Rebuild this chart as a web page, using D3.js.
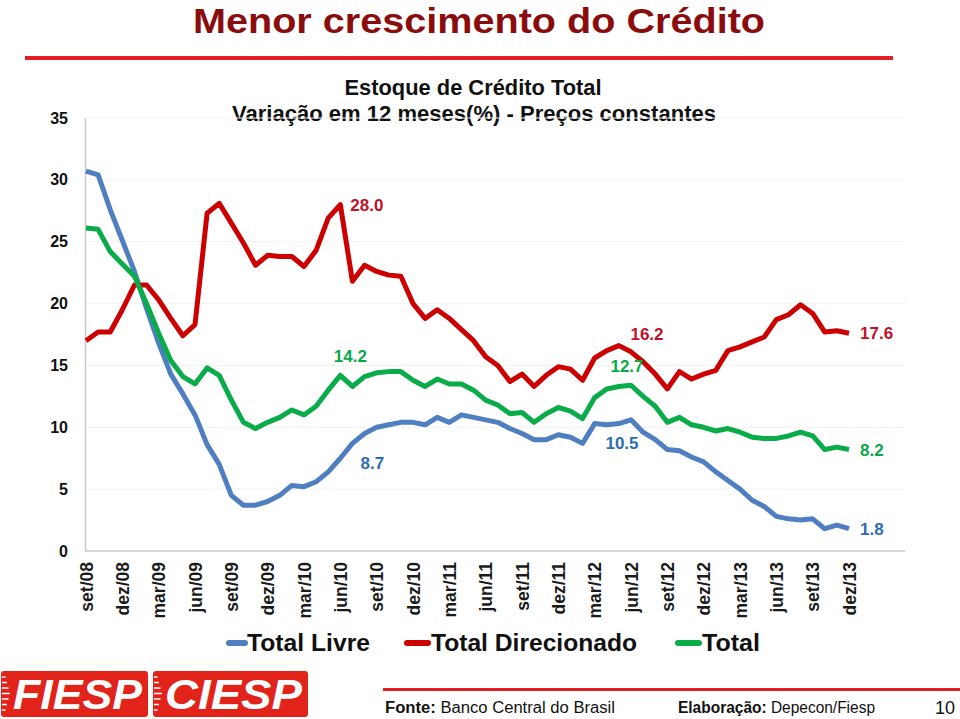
<!DOCTYPE html>
<html>
<head>
<meta charset="utf-8">
<script src="https://cdn.jsdelivr.net/npm/d3@7"></script>
<style>
  body { margin: 0; background: #fff; }
  svg { display: block; font-family: "Liberation Sans", Arial, sans-serif; }
</style>
</head>
<body>
<div id="chart"></div>
<script>
// meses de set/08 a dez/13
var meses = [
  "set/08", "out/08", "nov/08", "dez/08",
  "jan/09", "fev/09", "mar/09", "abr/09", "mai/09", "jun/09", "jul/09", "ago/09", "set/09", "out/09", "nov/09", "dez/09",
  "jan/10", "fev/10", "mar/10", "abr/10", "mai/10", "jun/10", "jul/10", "ago/10", "set/10", "out/10", "nov/10", "dez/10",
  "jan/11", "fev/11", "mar/11", "abr/11", "mai/11", "jun/11", "jul/11", "ago/11", "set/11", "out/11", "nov/11", "dez/11",
  "jan/12", "fev/12", "mar/12", "abr/12", "mai/12", "jun/12", "jul/12", "ago/12", "set/12", "out/12", "nov/12", "dez/12",
  "jan/13", "fev/13", "mar/13", "abr/13", "mai/13", "jun/13", "jul/13", "ago/13", "set/13", "out/13", "nov/13", "dez/13"
];

var totalLivre = [
  30.7, 30.4, 27.6, 25.1, 22.6, 19.6, 16.8, 14.3, 12.7, 11.0,
  8.6, 7.0, 4.5, 3.7, 3.7, 4.0, 4.5, 5.3, 5.2, 5.6,
  6.4, 7.5, 8.7, 9.5, 10.0, 10.2, 10.4, 10.4, 10.2, 10.8,
  10.4, 11.0, 10.8, 10.6, 10.4, 9.9, 9.5, 9.0, 9.0, 9.4,
  9.2, 8.7, 10.3, 10.2, 10.3, 10.6, 9.6, 9.0, 8.2, 8.1,
  7.6, 7.2, 6.4, 5.7, 5.0, 4.1, 3.6, 2.8, 2.6, 2.5,
  2.6, 1.8, 2.1, 1.8
];

var totalDirecionado = [
  17.0, 17.7, 17.7, 19.5, 21.5, 21.5, 20.3, 18.8, 17.4, 18.3,
  27.3, 28.1, 26.5, 24.9, 23.1, 23.9, 23.8, 23.8, 23.0, 24.3,
  26.9, 28.0, 21.8, 23.1, 22.6, 22.3, 22.2, 20.0, 18.8, 19.5,
  18.8, 17.9, 17.0, 15.7, 15.0, 13.7, 14.3, 13.3, 14.2, 14.9,
  14.7, 13.8, 15.6, 16.2, 16.6, 16.1, 15.3, 14.3, 13.1, 14.5,
  13.9, 14.3, 14.6, 16.2, 16.5, 16.9, 17.3, 18.7, 19.1, 19.9,
  19.2, 17.7, 17.8, 17.6
];

var total = [
  26.1, 26.0, 24.2, 23.2, 22.2, 20.0, 17.6, 15.4, 14.1, 13.5,
  14.8, 14.2, 12.2, 10.4, 9.9, 10.4, 10.8, 11.4, 11.0, 11.7,
  13.0, 14.2, 13.3, 14.1, 14.4, 14.5, 14.5, 13.8, 13.3, 13.9,
  13.5, 13.5, 13.0, 12.2, 11.8, 11.1, 11.2, 10.4, 11.1, 11.6,
  11.3, 10.7, 12.4, 13.1, 13.3, 13.4, 12.5, 11.7, 10.4, 10.8,
  10.2, 10.0, 9.7, 9.9, 9.6, 9.2, 9.1, 9.1, 9.3, 9.6,
  9.3, 8.2, 8.4, 8.2
];

var rotulosX = ["set/08", "dez/08", "mar/09", "jun/09", "set/09", "dez/09", "mar/10", "jun/10", "set/10",
  "dez/10", "mar/11", "jun/11", "set/11", "dez/11", "mar/12", "jun/12", "set/12", "dez/12", "mar/13",
  "jun/13", "set/13", "dez/13"];
var ticksY = [0, 5, 10, 15, 20, 25, 30, 35];

// rótulos de destaque: série, mês, texto
var destaques = [
  { serie: "dir", mes: "jun/10", texto: "28.0", dx: 10, dy: 0, anchor: "start" },
  { serie: "tot", mes: "jun/10", texto: "14.2", dx: 10, dy: -19, anchor: "middle" },
  { serie: "liv", mes: "jul/10", texto: "8.7", dx: 20, dy: 20, anchor: "middle" },
  { serie: "dir", mes: "jun/12", texto: "16.2", dx: 16, dy: -18, anchor: "middle" },
  { serie: "tot", mes: "jun/12", texto: "12.7", dx: -4, dy: -19, anchor: "middle" },
  { serie: "liv", mes: "jun/12", texto: "10.5", dx: -9, dy: 23, anchor: "middle" },
  { serie: "dir", mes: "dez/13", texto: "17.6", dx: 11, dy: 0, anchor: "start" },
  { serie: "tot", mes: "dez/13", texto: "8.2", dx: 11, dy: 0, anchor: "start" },
  { serie: "liv", mes: "dez/13", texto: "1.8", dx: 11, dy: 0, anchor: "start" }
];

var series = [
  { key: "liv", nome: "Total Livre", valores: totalLivre, cor: "#4f7fc0", corRotulo: "#2e6db4" },
  { key: "dir", nome: "Total Direcionado", valores: totalDirecionado, cor: "#cc0000", corRotulo: "#c0102a" },
  { key: "tot", nome: "Total", valores: total, cor: "#0aac4a", corRotulo: "#0aa84a" }
];

var width = 960, height = 719;
var svg = d3.select("#chart").append("svg").attr("width", width).attr("height", height);

// titulo do slide
svg.append("text")
    .attr("x", 479).attr("y", 33)
    .attr("text-anchor", "middle")
    .attr("font-size", 35).attr("font-weight", "bold")
    .attr("fill", "#8a0c0c")
    .attr("textLength", 572).attr("lengthAdjust", "spacingAndGlyphs")
    .text("Menor crescimento do Crédito");

svg.append("rect").attr("x", 25).attr("y", 56).attr("width", 868).attr("height", 4).attr("fill", "#e31e24");

// titulo do grafico
svg.append("text")
    .attr("x", 473).attr("y", 95)
    .attr("text-anchor", "middle")
    .attr("font-size", 22).attr("font-weight", "bold").attr("fill", "#111")
    .attr("textLength", 257).attr("lengthAdjust", "spacingAndGlyphs")
    .text("Estoque de Crédito Total");
svg.append("text")
    .attr("x", 474).attr("y", 121)
    .attr("text-anchor", "middle")
    .attr("font-size", 22).attr("font-weight", "bold").attr("fill", "#111")
    .attr("textLength", 484).attr("lengthAdjust", "spacingAndGlyphs")
    .text("Variação em 12 meses(%) - Preços constantes");

var x = d3.scalePoint().domain(meses).range([86, 849]);
var y = d3.scaleLinear().domain([0, 35]).range([551, 118]);

// grade bem clara
svg.append("g").selectAll("line").data(ticksY.filter(function (d) { return d > 0; }))
    .enter().append("line")
    .attr("x1", 86).attr("x2", 905)
    .attr("y1", function (d) { return y(d); }).attr("y2", function (d) { return y(d); })
    .attr("stroke", "#f3f3f3").attr("stroke-width", 1);

// eixo y
var eixoY = svg.append("g").attr("transform", "translate(85,0)")
    .call(d3.axisLeft(y).tickValues(ticksY).tickSize(0).tickPadding(17).tickFormat(d3.format("d")));
eixoY.select(".domain").attr("stroke", "#c8c8c8").attr("stroke-width", 1.5);
eixoY.selectAll("text").attr("font-size", 16).attr("font-weight", "bold").attr("fill", "#111")
    .attr("font-family", "Liberation Sans, Arial, sans-serif");

// eixo x
var eixoX = svg.append("g").attr("transform", "translate(0,551)")
    .call(d3.axisBottom(x).tickValues(rotulosX).tickSize(0).tickPadding(0));
eixoX.select(".domain").remove();
svg.append("line").attr("x1", 85).attr("x2", 905).attr("y1", 551).attr("y2", 551)
    .attr("stroke", "#c8c8c8").attr("stroke-width", 1.5);
eixoX.selectAll("text")
    .attr("transform", "rotate(-90)")
    .attr("x", -11).attr("y", 0).attr("dy", "0.35em")
    .attr("text-anchor", "end")
    .attr("font-size", 17.5).attr("font-weight", "bold").attr("fill", "#1a1a1a")
    .attr("font-family", "Liberation Sans, Arial, sans-serif");

// linhas
var linha = d3.line()
    .x(function (d, i) { return x(meses[i]); })
    .y(function (d) { return y(d); });

svg.append("g").selectAll("path").data(series).enter().append("path")
    .attr("d", function (s) { return linha(s.valores); })
    .attr("fill", "none")
    .attr("stroke", function (s) { return s.cor; })
    .attr("stroke-width", 5)
    .attr("stroke-linejoin", "round");

// rotulos de valor
var porChave = {};
series.forEach(function (s) { porChave[s.key] = s; });
svg.append("g").selectAll("text").data(destaques).enter().append("text")
    .attr("x", function (d) { return x(d.mes) + d.dx; })
    .attr("y", function (d) {
        var s = porChave[d.serie];
        return y(s.valores[meses.indexOf(d.mes)]) + d.dy;
    })
    .attr("dy", "0.35em")
    .attr("text-anchor", function (d) { return d.anchor; })
    .attr("font-size", 17).attr("font-weight", "bold")
    .attr("fill", function (d) { return porChave[d.serie].corRotulo; })
    .text(function (d) { return d.texto; });

// legenda
var legenda = [
  { s: series[0], x0: 229, x1: 245, tx: 247, tl: 123 },
  { s: series[1], x0: 407, x1: 428, tx: 431, tl: 206 },
  { s: series[2], x0: 678, x1: 699, tx: 702, tl: 58 }
];
var leg = svg.append("g").selectAll("g").data(legenda).enter().append("g");
leg.append("line")
    .attr("x1", function (d) { return d.x0; }).attr("x2", function (d) { return d.x1; })
    .attr("y1", 643).attr("y2", 643)
    .attr("stroke", function (d) { return d.s.cor; })
    .attr("stroke-width", 6).attr("stroke-linecap", "round");
leg.append("text")
    .attr("x", function (d) { return d.tx; }).attr("y", 651)
    .attr("font-size", 24).attr("font-weight", "bold").attr("fill", "#111")
    .attr("textLength", function (d) { return d.tl; }).attr("lengthAdjust", "spacingAndGlyphs")
    .text(function (d) { return d.s.nome; });

// rodape - logos
var logos = [{ nome: "FIESP", x: 1, w: 147 }, { nome: "CIESP", x: 153, w: 155 }];
var logo = svg.append("g").selectAll("g").data(logos).enter().append("g");
logo.append("rect")
    .attr("x", function (d) { return d.x; }).attr("y", 671)
    .attr("width", function (d) { return d.w; }).attr("height", 46)
    .attr("rx", 3).attr("fill", "#e2231a");
logo.each(function (d) {
    var g = d3.select(this);
    for (var k = 0; k < 7; k++) {
        g.append("line")
            .attr("x1", d.x + 1).attr("x2", d.x + 9 - Math.abs(k - 3) * 1.5)
            .attr("y1", 677 + k * 5.5).attr("y2", 677 + k * 5.5)
            .attr("stroke", "#fff").attr("stroke-width", 1.5);
    }
});
logo.append("text")
    .attr("x", function (d) { return d.x + 12; }).attr("y", 709)
    .attr("font-size", 42).attr("font-weight", "bold").attr("font-style", "italic")
    .attr("fill", "#fff")
    .attr("textLength", function (d) { return d.w - 18; }).attr("lengthAdjust", "spacingAndGlyphs")
    .text(function (d) { return d.nome; });

svg.append("rect").attr("x", 383).attr("y", 688).attr("width", 577).attr("height", 3).attr("fill", "#e31e24");

var fonte = svg.append("text").attr("x", 385).attr("y", 713).attr("font-size", 16).attr("fill", "#111")
    .attr("textLength", 230).attr("lengthAdjust", "spacingAndGlyphs");
fonte.append("tspan").attr("font-weight", "bold").text("Fonte:");
fonte.append("tspan").text(" Banco Central do Brasil");

var elab = svg.append("text").attr("x", 678).attr("y", 713).attr("font-size", 16).attr("fill", "#111")
    .attr("textLength", 197).attr("lengthAdjust", "spacingAndGlyphs");
elab.append("tspan").attr("font-weight", "bold").text("Elaboração:");
elab.append("tspan").text(" Depecon/Fiesp");

svg.append("text").attr("x", 945).attr("y", 714).attr("text-anchor", "middle")
    .attr("font-size", 18).attr("fill", "#111").text("10");
</script>
</body>
</html>
